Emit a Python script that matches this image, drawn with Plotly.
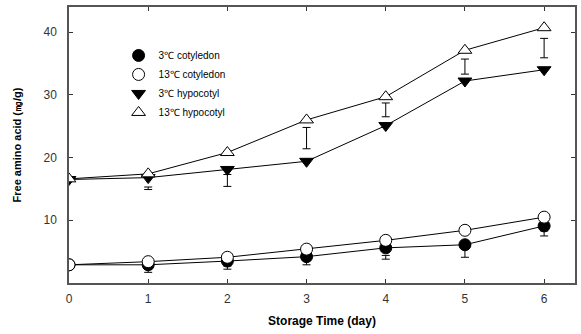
import plotly.graph_objects as go

days = [0, 1, 2, 3, 4, 5, 6]
cot_3 = [2.9, 2.9, 3.5, 4.2, 5.6, 6.1, 9.1]
cot_13 = [2.9, 3.4, 4.1, 5.4, 6.8, 8.4, 10.5]
hyp_3 = [16.5, 16.8, 18.1, 19.4, 25.1, 32.2, 34.0]
hyp_13 = [16.6, 17.4, 20.8, 26.0, 29.7, 37.1, 40.7]

err_days = [1, 2, 3, 4, 5, 6]
hyp_err_center = [15.1, 16.35, 23.1, 27.6, 34.5, 37.45]
hyp_err_half = [0.2, 0.95, 1.7, 1.1, 1.2, 1.55]
cot_err_center = [1.95, 2.45, 3.35, 4.1, 4.75, 7.9]
cot_err_half = [0.25, 0.25, 0.45, 0.3, 0.65, 0.4]

fig = go.Figure()

for c, h in [(hyp_err_center, hyp_err_half), (cot_err_center, cot_err_half)]:
    fig.add_trace(go.Scatter(
        x=err_days, y=c, mode="markers", showlegend=False, hoverinfo="skip",
        marker=dict(size=1, color="rgba(0,0,0,0)"),
        error_y=dict(type="data", array=h, symmetric=True, color="black",
                     thickness=1, width=4)))

series = [
    ("3℃ cotyledon", cot_3, "circle", "black"),
    ("13℃ cotyledon", cot_13, "circle", "white"),
    ("3℃ hypocotyl", hyp_3, "triangle-down", "black"),
    ("13℃ hypocotyl", hyp_13, "triangle-up", "white"),
]
for name, ys, sym, fill in series:
    fig.add_trace(go.Scatter(
        x=days, y=ys, mode="lines", showlegend=False, hoverinfo="skip",
        line=dict(color="black", width=1)))
for name, ys, sym, fill in series:
    fig.add_trace(go.Scatter(
        x=days, y=ys, name=name, mode="markers",
        marker=dict(symbol=sym, size=12, color=fill,
                    line=dict(color="black", width=1))))

font_family = "Arial, Liberation Sans"
axis_common = dict(showline=True, linecolor="#555", linewidth=1.5, mirror="ticks",
                   ticks="inside", ticklen=4, tickcolor="#333", showgrid=False,
                   zeroline=False, tickfont=dict(family=font_family, size=12, color="#333"))

fig.update_layout(
    width=581, height=334, margin=dict(l=69, r=4, t=7, b=51),
    plot_bgcolor="white", paper_bgcolor="white",
    xaxis=dict(range=[0, 6.39], tickvals=days, ticklabelstandoff=4,
               title=dict(text="<b>Storage Time (day)</b>", standoff=11,
                          font=dict(family=font_family, size=12, color="black")),
               **axis_common),
    yaxis=dict(range=[0, 44], tickvals=[10, 20, 30, 40], ticklabelstandoff=8,
               title=dict(text="<b>Free amino acid (㎎/g)</b>", standoff=20,
                          font=dict(family=font_family, size=11, color="black")),
               **axis_common),
    legend=dict(x=0.098, y=0.877, xanchor="left", yanchor="top",
                bgcolor="rgba(0,0,0,0)", tracegroupgap=0,
                font=dict(family=font_family, size=10, color="black")),
    showlegend=True,
)

fig.write_html("out.html")
